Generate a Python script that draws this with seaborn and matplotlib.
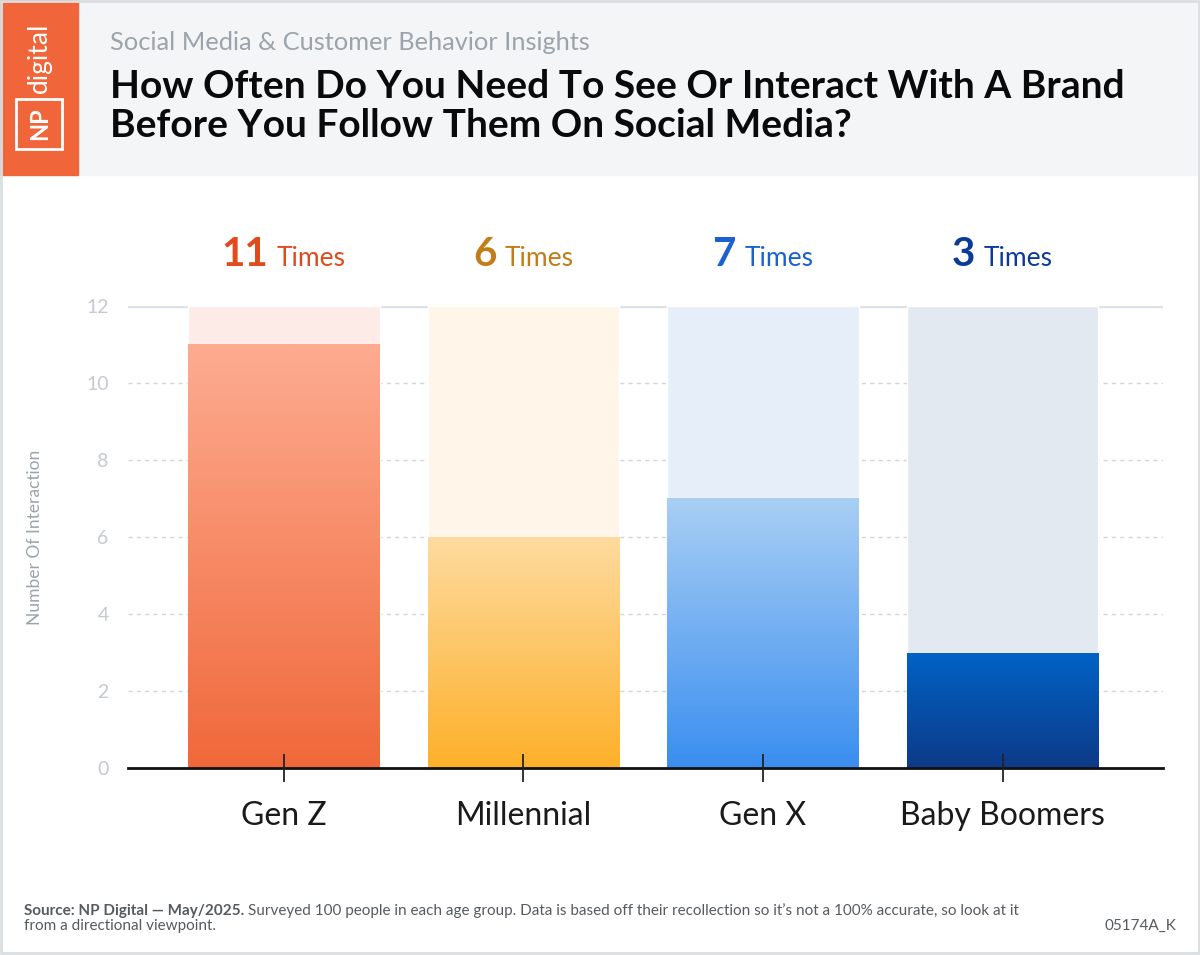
import matplotlib
matplotlib.use("Agg")
import matplotlib.pyplot as plt
import numpy as np
import pandas as pd
import seaborn as sns
from matplotlib.colors import LinearSegmentedColormap
from matplotlib.offsetbox import AnnotationBbox, HPacker, TextArea
from matplotlib.patches import Rectangle

# data
generations = ["Gen Z", "Millennial", "Gen X", "Baby Boomers"]
interactions = [11, 6, 7, 3]
scale_max = 12
y_ticks = [0, 2, 4, 6, 8, 10, 12]

# colours per bar: (top of gradient, bottom of gradient, background, label)
grad_top = ["#fdac91", "#fedb9f", "#a9cff4", "#0062c6"]
grad_bottom = ["#f0683a", "#fdb02a", "#3a8ef0", "#0d3a88"]
bg_colors = ["#fdebe7", "#fff5e9", "#e5eef9", "#e3e9f1"]
label_colors = ["#e04a1e", "#c27c18", "#1b62d0", "#0b3b98"]

sns.set_theme(style="white")
plt.rcParams["font.family"] = ["Lato", "DejaVu Sans"]

fig = plt.figure(figsize=(12, 9.55), dpi=100)
ax = fig.add_axes([0.1067, 0.1958, 0.8625, 0.4838])

df = pd.DataFrame({"gen": generations, "val": interactions, "full": [scale_max] * 4})

sns.barplot(data=df, x="gen", y="full", hue="gen", palette=bg_colors, legend=False,
            width=0.8, saturation=1, ax=ax, zorder=2)
n_bg = len(ax.patches)
sns.barplot(data=df, x="gen", y="val", hue="gen", palette=grad_bottom, legend=False,
            width=0.8, saturation=1, ax=ax, zorder=3)

# gradient fill for the value bars, clipped to the bar shapes
for i, patch in enumerate(ax.patches[n_bg:]):
    x0, y0 = patch.get_x(), patch.get_y()
    w, h = patch.get_width(), patch.get_height()
    cmap = LinearSegmentedColormap.from_list(f"g{i}", [grad_bottom[i], grad_top[i]])
    grad = np.linspace(0, 1, 256).reshape(-1, 1)
    im = ax.imshow(grad, cmap=cmap, aspect="auto", origin="lower",
                   extent=[x0, x0 + w, y0, y0 + h], zorder=4)
    im.set_clip_path(patch)

ax.set_xlim(-0.65, 3.67)
ax.set_ylim(0, scale_max)
ax.set_yticks(y_ticks)

# grid lines
for t in y_ticks[1:-1]:
    ax.axhline(t, color="#cfd6dc", lw=1, ls=(0, (3, 3)), zorder=1)
ax.axhline(scale_max, color="#dde2e6", lw=2.5, zorder=1)

for s in ["top", "right", "left"]:
    ax.spines[s].set_visible(False)
ax.spines["bottom"].set_color("#111111")
ax.spines["bottom"].set_linewidth(2)
ax.spines["bottom"].set_zorder(6)

ax.tick_params(axis="x", bottom=True, direction="inout", length=20, width=1.3, color="#222222",
               labelsize=23, labelcolor="#1a1a1a", pad=14)
ax.tick_params(axis="y", left=False, length=0, labelsize=14, labelcolor="#c4cad0", pad=14)
ax.set_xlabel("")
ax.set_ylabel("Number Of Interaction", fontsize=12.5, color="#9ba3a9")
ax.yaxis.set_label_coords(-0.082, 0.5)
ax.xaxis.set_zorder(7)

# value labels above bars
for i, (g, v) in enumerate(zip(generations, interactions)):
    num = TextArea(str(v), textprops=dict(fontsize=29, fontweight="bold", color=label_colors[i]))
    word = TextArea("Times", textprops=dict(fontsize=19, color=label_colors[i]))
    pack = HPacker(children=[num, word], align="baseline", pad=0, sep=6)
    ab = AnnotationBbox(pack, (i, scale_max), xybox=(0, 37), xycoords="data",
                        boxcoords="offset points", frameon=False, box_alignment=(0.5, 0.5))
    ax.add_artist(ab)

# header band and logo
fig.patches.append(Rectangle((78 / 1200, 1 - 175 / 955), 1, 175 / 955, transform=fig.transFigure,
                             color="#f3f5f7", zorder=0))
fig.patches.append(Rectangle((0, 1 - 175 / 955), 78 / 1200, 175 / 955, transform=fig.transFigure,
                             color="#f0663a", zorder=1))
fig.patches.append(Rectangle((16 / 1200, 1 - 149 / 955), 46 / 1200, 50 / 955, transform=fig.transFigure,
                             fill=False, edgecolor="white", lw=2, zorder=2))
fig.text(39 / 1200, 1 - 58 / 955, "digital", rotation=90, color="white", fontsize=19,
         ha="center", va="center", zorder=3)
fig.text(40 / 1200, 1 - 124 / 955, "NP", rotation=90, color="white", fontsize=17, fontweight="bold",
         ha="center", va="center", zorder=3)

fig.text(110 / 1200, 1 - 42 / 955, "Social Media & Customer Behavior Insights", fontsize=18.3,
         color="#9ba4aa", ha="left", va="center")
fig.text(110 / 1200, 1 - 106 / 955,
         "How Often Do You Need To See Or Interact With A Brand\nBefore You Follow Them On Social Media?",
         fontsize=28, fontweight="bold", color="#0a0a0a", ha="left", va="center", linespacing=1.12)

# footer
foot_color = "#555b60"
src = fig.text(24 / 1200, 1 - 911 / 955, "Source: NP Digital \u2014 May/2025.", fontsize=11,
               fontweight="bold", color=foot_color, ha="left", va="center")
fig.canvas.draw()
bb = src.get_window_extent(fig.canvas.get_renderer())
fig.text((bb.x1 + 4) / 1200, 1 - 911 / 955,
         "Surveyed 100 people in each age group. Data is based off their recollection so it\u2019s not a 100% accurate, so look at it",
         fontsize=11, color=foot_color, ha="left", va="center")
fig.text(24 / 1200, 1 - 926 / 955, "from a directional viewpoint.", fontsize=11,
         color=foot_color, ha="left", va="center")
fig.text(1176 / 1200, 1 - 926 / 955, "05174A_K", fontsize=11, color=foot_color, ha="right", va="center")

# outer frame
fig.patches.append(Rectangle((0.001, 0.002), 0.998, 0.997, transform=fig.transFigure,
                             fill=False, edgecolor="#dcdfe2", lw=2, zorder=5))

fig.savefig("out.png", dpi=100)
